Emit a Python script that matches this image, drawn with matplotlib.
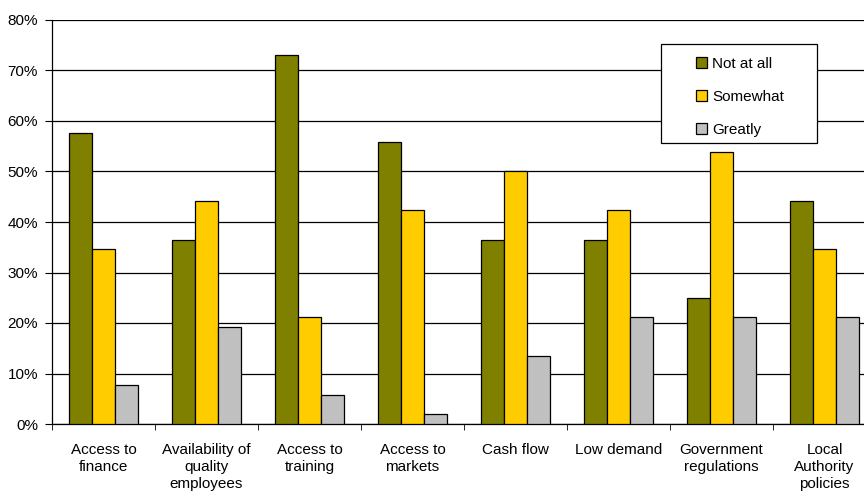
import numpy as np
import matplotlib
matplotlib.use("Agg")
import matplotlib.pyplot as plt
from matplotlib.patches import Rectangle
from matplotlib.ticker import PercentFormatter

# data (percent of respondents)
categories = ["Access to\nfinance", "Availability of\nquality\nemployees",
              "Access to\ntraining", "Access to\nmarkets", "Cash flow",
              "Low demand", "Government\nregulations", "Local\nAuthority\npolicies"]
not_at_all = [57.7, 36.5, 73.1, 55.8, 36.5, 36.5, 25.0, 44.2]
somewhat = [34.6, 44.2, 21.2, 42.3, 50.0, 42.3, 53.8, 34.6]
greatly = [7.7, 19.2, 5.8, 1.9, 13.5, 21.2, 21.2, 21.2]

series = [("Not at all", not_at_all, "#808000"),
          ("Somewhat", somewhat, "#FFCC00"),
          ("Greatly", greatly, "#C0C0C0")]

plt.rcParams["font.family"] = ["Liberation Sans", "DejaVu Sans"]

W, H = 864, 492
fig = plt.figure(figsize=(W / 100, H / 100), dpi=100)
# axis runs past the right edge, like the cropped original
ax = fig.add_axes([52 / W, 68 / H, 824 / W, 404 / H])

x = np.arange(len(categories)) + 0.5
w = 0.223
for i, (name, vals, col) in enumerate(series):
    ax.bar(x + (i - 1) * w, vals, width=w, color=col, edgecolor="black",
           linewidth=0.9, label=name, zorder=3)

ax.set_xlim(0, len(categories))
ax.set_ylim(0, 80)
ax.set_yticks(np.arange(0, 81, 10))
ax.yaxis.set_major_formatter(PercentFormatter(decimals=0))
ax.yaxis.grid(True, color="black", linewidth=0.9, zorder=0)

ax.set_xticks(x)
ax.set_xticklabels(categories, fontsize=11, linespacing=1.25)
ax.set_xticks(np.arange(len(categories) + 1), minor=True)
ax.tick_params(axis="x", which="major", length=0, pad=14)
ax.tick_params(axis="x", which="minor", length=4, color="black")
ax.tick_params(axis="y", length=5, labelsize=11, pad=5)

for s in ["top", "right"]:
    ax.spines[s].set_visible(False)
ax.spines["left"].set_linewidth(0.9)
ax.spines["bottom"].set_linewidth(0.9)

# legend box drawn by hand so its size matches the original
ax.add_patch(Rectangle((661 / W, 1 - 143 / H), 156 / W, 99 / H,
                       transform=fig.transFigure, facecolor="white",
                       edgecolor="black", linewidth=0.9, zorder=4,
                       clip_on=False))
leg = ax.legend(loc="upper left", bbox_to_anchor=(696 / W, 1 - 57 / H),
                bbox_transform=fig.transFigure, frameon=False,
                fontsize=11, handlelength=0.75, handleheight=0.75,
                handletextpad=0.3, labelspacing=1.25,
                borderpad=0, borderaxespad=0)
leg.set_zorder(5)

fig.savefig("out.png", dpi=100)
